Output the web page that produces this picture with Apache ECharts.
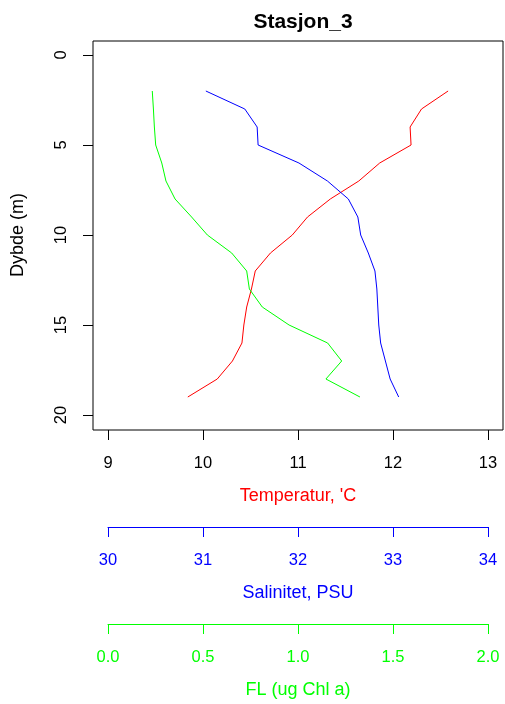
<!DOCTYPE html>
<html>
<head>
<meta charset="utf-8">
<script src="https://cdn.jsdelivr.net/npm/echarts@6/dist/echarts.min.js"></script>
<style>html,body{margin:0;padding:0;background:#fff}#c{width:505px;height:704px}</style>
</head>
<body>
<div id="c"></div>
<script>
var depth = [2,3,4,5,6,7,8,9,10,11,12,13,14,15,16,17,18,19];
var temperatur = [12.58,12.30,12.18,12.19,11.86,11.64,11.34,11.10,10.94,10.71,10.55,10.51,10.46,10.43,10.41,10.31,10.15,9.84];
var salinitet = [31.03,31.44,31.57,31.58,32.01,32.31,32.53,32.63,32.66,32.74,32.81,32.83,32.84,32.85,32.87,32.92,32.97,33.06];
var fl = [0.233,0.239,0.244,0.251,0.283,0.305,0.353,0.44,0.523,0.651,0.730,0.744,0.812,0.953,1.156,1.23,1.147,1.326];

function pairs(xs){ return xs.map(function(v,i){ return [v, depth[i]]; }); }

var FONT = '"Liberation Sans", Arial, Helvetica, sans-serif';
var TICKFS = 16.5, NAMEFS = 18;
var chart = echarts.init(document.getElementById('c'), null, {renderer:'canvas'});
chart.setOption({
  animation: false,
  backgroundColor: '#fff',
  textStyle: {fontFamily: FONT},
  title: {
    text: 'Stasjon_3', left: 298, top: 7, textAlign: 'center',
    textStyle: {fontFamily: FONT, fontWeight: 'bold', fontSize: 21, color: '#000'}
  },
  grid: [
    {left: 93, top: 41, width: 410, height: 389, show: true, borderColor: '#000', borderWidth: 1, backgroundColor: 'transparent'},
    {left: 108, top: 55, width: 380, height: 360}
  ],
  xAxis: [
    {gridIndex: 0, type: 'value', show: false, min: 0, max: 1},
    {gridIndex: 1, type: 'value', position: 'bottom', offset: 15, min: 9, max: 13, interval: 1,
     splitLine: {show: false}, axisLine: {show: false, onZero: false},
     axisTick: {show: true, length: 10, lineStyle: {color: '#000'}},
     axisLabel: {margin: 25, fontSize: TICKFS, color: '#000', fontFamily: FONT},
     name: "Temperatur, 'C", nameLocation: 'middle', nameGap: 57,
     nameTextStyle: {color: '#ff0000', fontSize: NAMEFS, fontFamily: FONT}},
    {gridIndex: 1, type: 'value', position: 'bottom', offset: 112, min: 30, max: 34, interval: 1,
     splitLine: {show: false}, axisLine: {show: true, onZero: false, lineStyle: {color: '#0000ff', width: 1}},
     axisTick: {show: true, length: 10, lineStyle: {color: '#0000ff'}},
     axisLabel: {margin: 25, fontSize: TICKFS, color: '#0000ff', fontFamily: FONT},
     name: 'Salinitet, PSU', nameLocation: 'middle', nameGap: 57,
     nameTextStyle: {color: '#0000ff', fontSize: NAMEFS, fontFamily: FONT}},
    {gridIndex: 1, type: 'value', position: 'bottom', offset: 209, min: 0, max: 2, interval: 0.5,
     splitLine: {show: false}, axisLine: {show: true, onZero: false, lineStyle: {color: '#00ff00', width: 1}},
     axisTick: {show: true, length: 10, lineStyle: {color: '#00ff00'}},
     axisLabel: {margin: 25, fontSize: TICKFS, color: '#00ff00', fontFamily: FONT, formatter: function(v){ return v.toFixed(1); }},
     name: 'FL (ug Chl a)', nameLocation: 'middle', nameGap: 57,
     nameTextStyle: {color: '#00ff00', fontSize: NAMEFS, fontFamily: FONT}}
  ],
  yAxis: [
    {gridIndex: 0, type: 'value', show: false, min: 0, max: 1},
    {gridIndex: 1, type: 'value', inverse: true, position: 'left', offset: 15, min: 0, max: 20, interval: 5,
     splitLine: {show: false}, axisLine: {show: false, onZero: false},
     axisTick: {show: true, length: 10, lineStyle: {color: '#000'}},
     axisLabel: {rotate: 90, margin: 23, fontSize: TICKFS, color: '#000', fontFamily: FONT},
     name: 'Dybde (m)', nameLocation: 'middle', nameGap: 66, nameRotate: 90,
     nameTextStyle: {color: '#000', fontSize: NAMEFS, fontFamily: FONT}}
  ],
  series: [
    {type: 'line', xAxisIndex: 1, yAxisIndex: 1, data: pairs(temperatur), showSymbol: false, lineStyle: {color: '#ff0000', width: 1}, itemStyle: {color: '#ff0000'}},
    {type: 'line', xAxisIndex: 2, yAxisIndex: 1, data: pairs(salinitet), showSymbol: false, lineStyle: {color: '#0000ff', width: 1}, itemStyle: {color: '#0000ff'}},
    {type: 'line', xAxisIndex: 3, yAxisIndex: 1, data: pairs(fl), showSymbol: false, lineStyle: {color: '#00ff00', width: 1}, itemStyle: {color: '#00ff00'}}
  ]
});
</script>
</body>
</html>
